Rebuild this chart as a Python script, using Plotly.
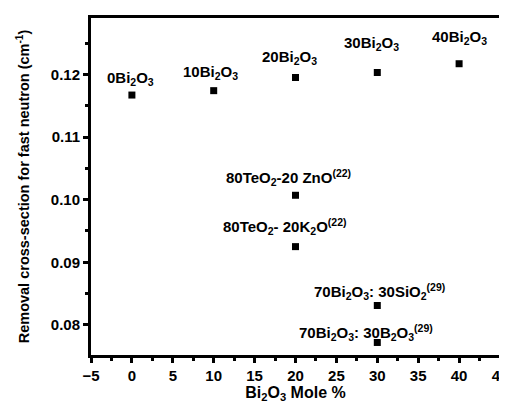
import plotly.graph_objects as go

bi_mole = [0, 10, 20, 30, 40, 20, 20, 30, 30]
removal = [0.1167, 0.1174, 0.1195, 0.1203, 0.1217, 0.1007, 0.0925, 0.0831, 0.0772]
labels = [
    "0Bi<sub>2</sub>O<sub>3</sub>",
    "10Bi<sub>2</sub>O<sub>3</sub>",
    "20Bi<sub>2</sub>O<sub>3</sub>",
    "30Bi<sub>2</sub>O<sub>3</sub>",
    "40Bi<sub>2</sub>O<sub>3</sub>",
    "80TeO<sub>2</sub>-20 ZnO<sup>(22)</sup>",
    "80TeO<sub>2</sub>- 20K<sub>2</sub>O<sup>(22)</sup>",
    "70Bi<sub>2</sub>O<sub>3</sub>: 30SiO<sub>2</sub><sup>(29)</sup>",
    "70Bi<sub>2</sub>O<sub>3</sub>: 30B<sub>2</sub>O<sub>3</sub><sup>(29)</sup>",
]
# label offsets (px) relative to each marker
label_dx = [-1, -3, -6, -6, 0, -7, -11, 2, -11]
label_dy = [17, 18, 20, 29, 26, 18, 20, 14, 10]

FONT = "Arial, Liberation Sans, sans-serif"

fig = go.Figure()
fig.add_trace(go.Scatter(
    x=bi_mole, y=removal, mode="markers",
    marker=dict(symbol="square", size=7, color="black"),
    showlegend=False, hoverinfo="x+y",
))

for x, y, t, dx, dy in zip(bi_mole, removal, labels, label_dx, label_dy):
    fig.add_annotation(x=x, y=y, text=t, showarrow=False,
                       xanchor="center", yanchor="middle",
                       xshift=dx, yshift=dy,
                       font=dict(family=FONT, size=15, color="black", weight="bold"))

axis_common = dict(
    showline=True, linecolor="black", linewidth=3, mirror=True,
    ticks="outside", ticklen=5, tickwidth=2.5, tickcolor="black",
    showgrid=False, zeroline=False, ticklabeloverflow="allow",
    tickfont=dict(family=FONT, size=15, color="black", weight="bold"),
)

fig.update_xaxes(
    range=[-5, 45], dtick=5, tick0=0,
    minor=dict(dtick=2.5, ticks="outside", ticklen=3, tickwidth=2.5, tickcolor="black"),
    title=dict(text="Bi<sub>2</sub>O<sub>3</sub> Mole %",
               font=dict(family=FONT, size=16, color="black", weight="bold"),
               standoff=1),
    **axis_common,
)
fig.update_yaxes(
    range=[0.0752, 0.129], dtick=0.01, tick0=0.08, tickformat=".2f",
    minor=dict(dtick=0.005, ticks="outside", ticklen=3, tickwidth=2.5, tickcolor="black"),
    title=dict(text="Removal cross-section for fast neutron (cm<sup>-1</sup>)",
               font=dict(family=FONT, size=14.5, color="black", weight="bold"),
               standoff=18),
    **axis_common,
)

fig.update_layout(
    width=507, height=407,
    margin=dict(l=83, r=9, t=7, b=60),
    plot_bgcolor="white", paper_bgcolor="white",
)

fig.write_html("out.html")
